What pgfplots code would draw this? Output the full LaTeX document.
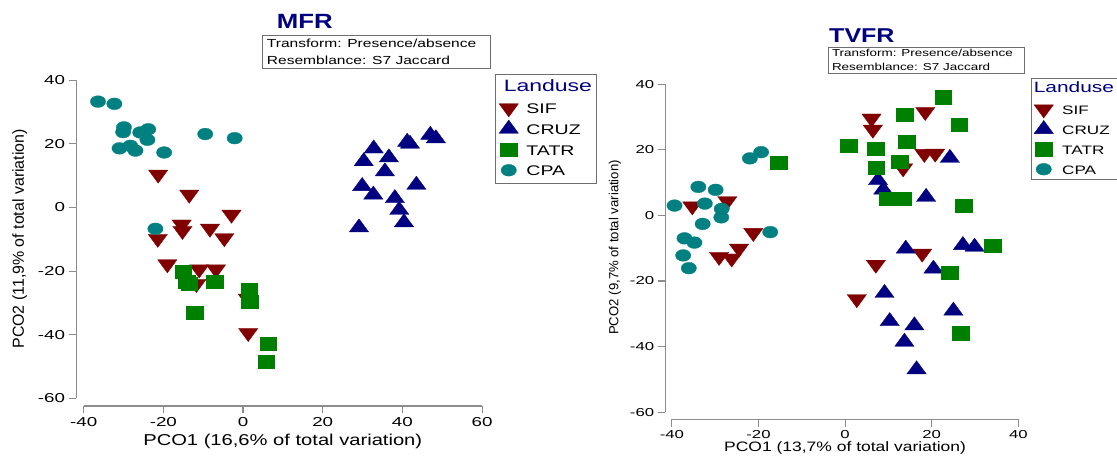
\documentclass[border=0pt]{standalone}
\usepackage{fontspec}
\usepackage{pgfplots}
\pgfplotsset{compat=1.18}
\setmainfont{Liberation Sans}
\newfontfamily\tickfont[FakeStretch=1.45]{Liberation Sans}
\newfontfamily\labfont[FakeStretch=1.28]{Liberation Sans}
\newfontfamily\plainfont{Liberation Sans}
\newfontfamily\titfont[FakeStretch=1.25]{Liberation Sans}
\newfontfamily\infofont[FakeStretch=1.33]{Liberation Sans}
\newfontfamily\legfont[FakeStretch=1.4]{Liberation Sans}
\definecolor{sifc}{HTML}{800000}
\definecolor{cruzc}{HTML}{000080}
\definecolor{tatrc}{HTML}{008000}
\definecolor{cpac}{HTML}{008080}
\definecolor{axgray}{HTML}{8C8C8C}
\definecolor{boxgray}{HTML}{6E6E6E}
\definecolor{ttl}{HTML}{000080}

\pgfplotsset{
 sifm/.style={only marks, mark=triangle*, mark size=8.8bp, mark options={rotate=180, xscale=1.27, fill=sifc, draw=sifc, line width=0.3bp}},
 cruzm/.style={only marks, mark=triangle*, mark size=8.8bp, mark options={xscale=1.27, fill=cruzc, draw=cruzc, line width=0.3bp}},
 tatrm/.style={only marks, mark=square*, mark size=6.6bp, mark options={xscale=1.26, fill=tatrc, draw=tatrc, line width=0.3bp}},
 cpam/.style={only marks, mark=*, mark size=5.9bp, mark options={xscale=1.3, fill=cpac, draw=cpac, line width=0.3bp}},
 legL/.style={legend image code/.code={\path[draw=none,fill=none] (0bp,-5bp) rectangle (18.6bp,5bp);
   \pgfinterruptboundingbox
   \path[mark repeat=2,mark phase=2,##1,only marks,draw=none] plot coordinates {(0bp,0bp) (9.3bp,0bp) (18.6bp,0bp)};
   \endpgfinterruptboundingbox}},
 legR/.style={legend image code/.code={\path[draw=none,fill=none] (0bp,-5bp) rectangle (18.2bp,5bp);
   \pgfinterruptboundingbox
   \path[mark repeat=2,mark phase=2,##1,only marks,draw=none] plot coordinates {(0bp,0bp) (9.1bp,0bp) (18.2bp,0bp)};
   \endpgfinterruptboundingbox}},
 pcobase/.style={
   scale only axis, clip=false,
   axis line style={draw=none},
   tick align=outside, tick pos=left, major tick length=7.5bp,
   tick style={draw=axgray, line width=1.1bp},
   /pgf/number format/assume math mode=true,
   legend cell align=left,
 },
}

\begin{document}
\begin{tikzpicture}[x=1bp,y=1bp]
\path[use as bounding box] (0,0) rectangle (1117,457);

% ---------------- MFR ----------------
\begin{axis}[pcobase,
 at={(76.1bp,51bp)}, anchor=south west, width=406bp, height=325.7bp,
 xmin=-41.9, xmax=60, ymin=-62.4, ymax=40,
 xtick={-40,-20,0,20,40,60}, ytick={-60,-40,-20,0,20,40},
 tick label style={font=\tickfont\fontsize{13}{13}\selectfont},
 xlabel={PCO1 (16,6\% of total variation)},
 xlabel style={at={(axis description cs:0.509,-0.1075)}, anchor=center, font=\labfont\fontsize{15.8}{15.8}\selectfont},
 ylabel={PCO2 (11,9\% of total variation)},
 ylabel style={at={(axis description cs:-0.139,0.513)}, anchor=center, font=\plainfont\fontsize{16}{16}\selectfont},
 legend style={at={(1.0318,1.0193)}, anchor=north west, draw=boxgray, line width=0.9bp, fill=white,
   inner xsep=4bp, inner ysep=4.5bp, row sep=3.7bp, column sep=8.4bp,
   nodes={inner sep=0bp, text height=14bp, text depth=3bp, font=\legfont\fontsize{14}{14}\selectfont}},
]
\draw[axgray, line width=1.2bp] (axis cs:-41.9,-60) -- (axis cs:-41.9,40);
\draw[axgray, line width=1.2bp] (axis cs:-40,-62.4) -- (axis cs:60,-62.4);
\addlegendimage{empty legend}
\addlegendentry{\hspace*{-22.7bp}\raisebox{1.6bp}{\color{ttl}\fontsize{16.5}{16.5}\selectfont Landuse}}
\addplot[sifm, legL] coordinates {
 (-21.3,10.4) (-13.5,4.1) (-2.9,-2.2) (-15.4,-5.3) (-15.2,-7.3) (-21.4,-9.8) (-8.3,-6.6)
 (-4.7,-9.6) (-19.0,-17.8) (-11.0,-19.4) (-6.8,-19.4) (-11.7,-24.0) (1.2,-28.6) (1.3,-39.4)};
\addlegendentry{SIF}
\addplot[cruzm, legL] coordinates {
 (47.0,22.8) (48.4,21.7) (41.2,20.6) (41.9,20.0) (32.8,18.5) (30.3,14.5) (36.6,15.7) (35.6,11.3)
 (29.9,6.7) (32.7,4.0) (38.1,2.9) (43.5,7.1) (39.2,-0.8) (40.4,-4.7) (29.1,-6.3)};
\addlegendentry{CRUZ}
\addplot[tatrm, legL] coordinates {
 (-15.0,-20.1) (-14.2,-23.3) (-13.5,-24.0) (-7.2,-23.4) (1.5,-26.0) (1.7,-29.6) (-12.1,-33.1)
 (6.3,-42.9) (5.8,-48.4)};
\addlegendentry{TATR}
\addplot[cpam, legL] coordinates {
 (-36.4,33.3) (-32.3,32.6) (-29.9,25.2) (-30.1,23.7) (-25.8,23.6) (-23.8,24.6) (-24.0,21.3)
 (-31.0,18.6) (-28.3,19.4) (-27.0,17.9) (-19.8,17.3) (-9.5,23.1) (-2.1,21.8) (-22.0,-6.7)};
\addlegendentry{CPA}
\end{axis}

% ---------------- TVFR ----------------
\begin{axis}[pcobase,
 at={(665.2bp,37.7bp)}, anchor=south west, width=353.1bp, height=335bp,
 xmin=-41.55, xmax=40, ymin=-62.2, ymax=40,
 xtick={-40,-20,0,20,40}, ytick={-60,-40,-20,0,20,40},
 tick label style={font=\tickfont\fontsize{11.6}{11.6}\selectfont},
 xlabel={PCO1 (13,7\% of total variation)},
 xlabel style={at={(axis description cs:0.5095,-0.0866)}, anchor=center, font=\labfont\fontsize{13.7}{13.7}\selectfont},
 ylabel={PCO2 (9,7\% of total variation)},
 ylabel style={at={(axis description cs:-0.142,0.513)}, anchor=center, font=\plainfont\fontsize{13.2}{13.2}\selectfont},
 legend style={at={(1.0351,1.0179)}, anchor=north west, draw=boxgray, line width=0.9bp, fill=white,
   inner xsep=3.5bp, inner ysep=2bp, row sep=3bp, column sep=9.3bp,
   nodes={inner sep=0bp, text height=14bp, text depth=3bp, font=\legfont\fontsize{12.3}{12.3}\selectfont}},
]
\draw[axgray, line width=1.2bp] (axis cs:-41.55,-60) -- (axis cs:-41.55,40);
\draw[axgray, line width=1.2bp] (axis cs:-40,-62.2) -- (axis cs:40,-62.2);
\addlegendimage{empty legend}
\addlegendentry{\hspace*{-28.4bp}\raisebox{2.5bp}{\color{ttl}\fontsize{15}{15}\selectfont Landuse}}
\addplot[sifm, legR] coordinates {
 (-35.3,2.8) (-27.2,4.4) (-21.2,-5.3) (-24.5,-10.1) (-29.1,-12.6) (-26.2,-13.1) (6.1,29.6)
 (6.4,26.2) (18.5,31.6) (13.4,14.4) (18.3,18.8) (20.8,18.9) (17.8,-11.6) (7.1,-15.0) (2.7,-25.5)};
\addlegendentry{SIF}
\addplot[cruzm, legR] coordinates {
 (24.2,17.5) (7.6,10.7) (8.8,7.8) (18.7,5.6) (14.0,-10.2) (27.2,-9.1) (29.9,-9.6) (20.4,-16.3)
 (9.1,-23.7) (25.0,-29.1) (10.3,-32.3) (16.0,-33.6) (13.7,-38.6) (16.5,-47.0)};
\addlegendentry{CRUZ}
\addplot[tatrm, legR] coordinates {
 (-15.3,16.0) (0.8,21.3) (7.1,20.4) (7.2,14.5) (13.8,30.8) (14.2,22.4) (12.6,16.3) (22.6,36.1)
 (26.3,27.7) (9.7,5.2) (13.4,5.1) (27.3,2.9) (34.1,-9.3) (24.2,-17.4) (26.7,-35.9)};
\addlegendentry{TATR}
\addplot[cpam, legR] coordinates {
 (-39.4,3.0) (-33.9,8.7) (-29.9,7.8) (-32.4,3.6) (-28.5,2.0) (-28.6,-0.6) (-32.9,-2.6)
 (-37.1,-7.0) (-34.8,-8.3) (-37.4,-12.2) (-36.1,-16.1) (-22.0,17.4) (-19.4,19.3) (-17.3,-5.1)};
\addlegendentry{CPA}
\end{axis}

% titles and info boxes
\node[anchor=base west, inner sep=0, text=ttl, font=\titfont\bfseries\fontsize{20.7}{20.7}\selectfont] at (276.7,428.7) {MFR};
\draw[boxgray, line width=1bp] (262.7,388) rectangle (490.7,421);
\node[anchor=base west, inner sep=0, font=\infofont\fontsize{11.75}{11.75}\selectfont] at (266.7,409.3) {Transform: Presence/absence};
\node[anchor=base west, inner sep=0, font=\infofont\fontsize{11.75}{11.75}\selectfont] at (266.7,392.7) {Resemblance: S7 Jaccard};

\node[anchor=base west, inner sep=0, text=ttl, font=\titfont\bfseries\fontsize{20.1}{20.1}\selectfont] at (829,414.3) {TVFR};
\draw[boxgray, line width=1bp] (828.2,383) rectangle (1024.7,409.7);
\node[anchor=base west, inner sep=0, font=\infofont\fontsize{10.15}{10.15}\selectfont] at (831.8,400.3) {Transform: Presence/absence};
\node[anchor=base west, inner sep=0, font=\infofont\fontsize{10.15}{10.15}\selectfont] at (831.8,386.3) {Resemblance: S7 Jaccard};
\end{tikzpicture}
\end{document}
